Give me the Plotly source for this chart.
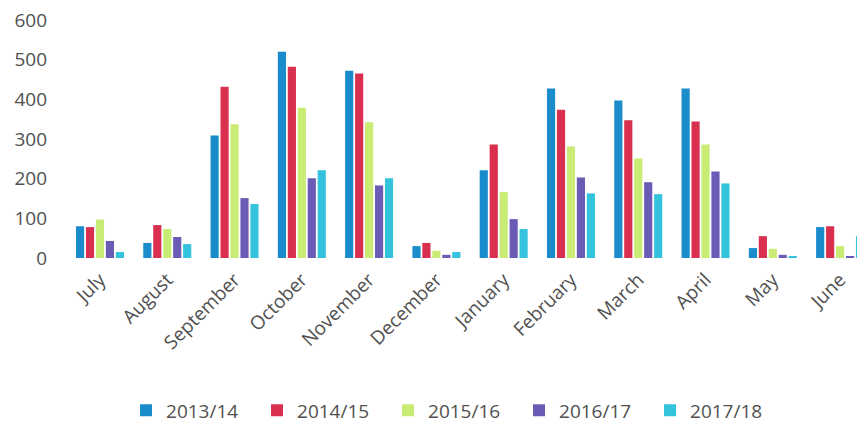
import plotly.graph_objects as go

months = ["July", "August", "September", "October", "November", "December",
          "January", "February", "March", "April", "May", "June"]
s2013 = [80, 38, 309, 520, 472, 30, 221, 427, 397, 427, 25, 78]
s2014 = [78, 83, 432, 482, 465, 38, 286, 374, 347, 344, 55, 80]
s2015 = [97, 73, 337, 379, 342, 18, 166, 281, 251, 286, 23, 30]
s2016 = [43, 53, 151, 201, 183, 8, 98, 203, 191, 218, 8, 5]
s2017 = [15, 35, 136, 221, 201, 15, 73, 163, 161, 188, 3, 55]
series_names = ["2013/14", "2014/15", "2015/16", "2016/17", "2017/18"]
colors = ["#1a8ccc", "#d9304f", "#c9ec74", "#6a5cb4", "#33c3dc"]

fig = go.Figure()
for name, vals, col in zip(series_names, [s2013, s2014, s2015, s2016, s2017], colors):
    fig.add_trace(go.Bar(x=months, y=vals, name=name, marker_color=col,
                         marker_line_width=0))

fig.update_layout(
    width=857, height=420,
    paper_bgcolor="white", plot_bgcolor="white",
    margin=dict(l=58, r=0, t=12, b=170, autoexpand=False),
    barmode="group", bargap=0.26, bargroupgap=0.18,
    font=dict(family="Open Sans, DejaVu Sans, sans-serif", color="#505050", size=18),
    showlegend=True,
    legend=dict(orientation="h", x=0.485, xanchor="center", y=-0.64, yanchor="middle",
                font=dict(size=19, color="#505050"), itemwidth=30,
                entrywidth=86, entrywidthmode="pixels",
                traceorder="normal"),
    xaxis=dict(range=[-0.505, 11.37], tickangle=-45, showgrid=False, showline=False,
               ticks="", automargin=False, ticklabelstandoff=6,
               tickfont=dict(size=19, color="#505050")),
    yaxis=dict(range=[0, 600], dtick=100, showgrid=False, zeroline=False,
               showline=False, ticks="", ticklabelstandoff=18, automargin=False,
               ticklabeloverflow="allow",
               tickfont=dict(size=19, color="#505050")),
)

fig.write_html("out.html")
